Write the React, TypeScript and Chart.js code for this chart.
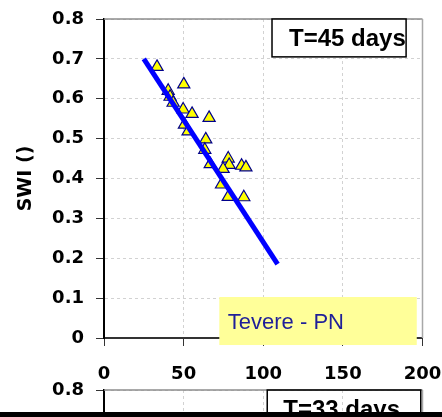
import React, { useEffect, useRef } from "react";
import { Chart, registerables } from "chart.js";

Chart.register(...registerables);

// ---- data ----
const obsDays = [33.3, 50.1, 40.3, 41.5, 43.4, 49.7, 55.3, 66.0, 50.5, 52.8, 63.9, 63.3, 66.7, 78.0, 78.6, 74.8, 86.4, 89.1, 73.8, 78.0, 87.8];
const obsSWI = [0.680, 0.636, 0.620, 0.605, 0.590, 0.573, 0.562, 0.552, 0.535, 0.518, 0.498, 0.472, 0.436, 0.450, 0.434, 0.424, 0.432, 0.428, 0.385, 0.354, 0.353];
const fitDays = [25, 109];
const fitSWI = [0.70, 0.185];
const xMin = 0;
const xMax = 200;
const xStep = 50;
const yMin = 0;
const yMax = 0.8;
const yStep = 0.1;
const yTitle = "SWI ()";
const panelLabel = "T=45 days";
const nextPanelLabel = "T=33 days";
const siteLabel = "Tevere - PN";

const tickFont = { family: "'DejaVu Sans', sans-serif", size: 18, weight: "bold" as const };
const boxFont = "bold 24px 'Liberation Sans', Arial, sans-serif";
const siteFont = "22px 'Liberation Sans', Arial, sans-serif";

const decor = {
  id: "decor",
  afterDraw(chart: any, _args: any, opts: any) {
    const { ctx, chartArea: a, scales } = chart;
    const x = scales.x;
    const y = scales.y;
    ctx.save();
    ctx.lineWidth = 1.5;
    ctx.strokeStyle = "#8c8c8c";
    ctx.beginPath();
    ctx.moveTo(a.left, a.top);
    ctx.lineTo(a.right, a.top);
    ctx.stroke();
    ctx.strokeStyle = "#a8a8a8";
    ctx.beginPath();
    ctx.moveTo(a.right, a.top);
    ctx.lineTo(a.right, a.bottom);
    ctx.stroke();
    for (const b of opts.boxes || []) {
      const l = x.getPixelForValue(b.x0);
      const r = x.getPixelForValue(b.x1);
      const t = y.getPixelForValue(b.y1);
      const bt = y.getPixelForValue(b.y0);
      if (b.fill) {
        ctx.fillStyle = b.fill;
        ctx.fillRect(l, t, r - l, bt - t);
      }
      if (b.stroke) {
        ctx.strokeStyle = b.stroke;
        ctx.lineWidth = 1.5;
        ctx.strokeRect(l, t, r - l, bt - t);
      }
      ctx.save();
      ctx.beginPath();
      ctx.rect(l, t, r - l, bt - t);
      ctx.clip();
      ctx.font = b.font;
      ctx.fillStyle = b.color;
      ctx.textAlign = "left";
      ctx.textBaseline = "alphabetic";
      ctx.fillText(b.text, l + b.dx, t + b.dy);
      ctx.restore();
    }
    ctx.restore();
  },
};

function scaleOptions(showX: boolean) {
  return {
    x: {
      type: "linear" as const,
      min: xMin,
      max: xMax,
      ticks: {
        stepSize: xStep,
        display: showX,
        font: tickFont,
        color: "#000",
        padding: 18,
        maxRotation: 0,
      },
      grid: { color: "#d2d2d2", tickColor: "#333", tickLength: 8, lineWidth: 1 },
      border: { color: "#333", width: 2, dash: [3, 3] },
      afterFit: (s: any) => {
        s.height = 47;
        s.paddingLeft = 0;
        s.paddingRight = 0;
      },
    },
    y: {
      type: "linear" as const,
      min: yMin,
      max: yMax,
      ticks: {
        stepSize: yStep,
        font: tickFont,
        color: "#000",
        padding: 12,
        callback: (v: any) => String(Number(Number(v).toFixed(1))),
      },
      title: {
        display: showX,
        text: yTitle,
        font: { family: "'DejaVu Sans', sans-serif", size: 19, weight: "bold" as const },
        color: "#000",
        padding: { top: 15, bottom: 0 },
      },
      grid: { color: "#d2d2d2", tickColor: "#333", tickLength: 8, lineWidth: 1 },
      border: { color: "#000", width: 2, dash: [3, 3] },
      afterFit: (s: any) => {
        s.width = 104;
        s.paddingTop = 0;
        s.paddingBottom = 0;
      },
    },
  };
}

export default function App() {
  const mainRef = useRef<HTMLCanvasElement>(null);
  const nextRef = useRef<HTMLCanvasElement>(null);

  useEffect(() => {
    document.body.style.margin = "0";
    const points = obsDays.map((d, i) => ({ x: d, y: obsSWI[i] }));
    const fit = fitDays.map((d, i) => ({ x: d, y: fitSWI[i] }));

    const main = new Chart(mainRef.current!, {
      type: "scatter",
      data: {
        datasets: [
          {
            type: "line",
            data: fit,
            borderColor: "#0000ff",
            borderWidth: 5,
            pointRadius: 0,
            fill: false,
            order: 0,
          } as any,
          {
            type: "scatter",
            data: points,
            pointStyle: "triangle",
            pointRadius: 7,
            backgroundColor: "#ffff00",
            borderColor: "#00008b",
            borderWidth: 1.2,
            order: 1,
          } as any,
        ],
      },
      options: {
        responsive: false,
        animation: false,
        devicePixelRatio: 1,
        events: [],
        layout: { padding: { left: 0, top: 19, right: 19.5, bottom: 0 } },
        plugins: {
          legend: { display: false },
          tooltip: { enabled: false },
          decor: {
            boxes: [
              { x0: 105.5, x1: 189.7, y0: 0.705, y1: 0.8, fill: "#ffffff", stroke: "#000", text: panelLabel, font: boxFont, color: "#000", dx: 17, dy: 26.7 },
              { x0: 72.4, x1: 196.4, y0: -0.0176, y1: 0.1028, fill: "#ffff99", stroke: null, text: siteLabel, font: siteFont, color: "#1f1f99", dx: 8.5, dy: 32 },
            ],
          },
        } as any,
        scales: scaleOptions(true) as any,
      },
      plugins: [decor],
    });

    const next = new Chart(nextRef.current!, {
      type: "scatter",
      data: { datasets: [] },
      options: {
        responsive: false,
        animation: false,
        devicePixelRatio: 1,
        events: [],
        layout: { padding: { left: 0, top: 14, right: 19.5, bottom: 0 } },
        plugins: {
          legend: { display: false },
          tooltip: { enabled: false },
          decor: {
            boxes: [
              { x0: 102.5, x1: 198.9, y0: 0.705, y1: 0.8, fill: null, stroke: "#000", text: nextPanelLabel, font: boxFont, color: "#000", dx: 16, dy: 26.7 },
            ],
          },
        } as any,
        scales: scaleOptions(false) as any,
      },
      plugins: [decor],
    });

    return () => {
      main.destroy();
      next.destroy();
    };
  }, []);

  return (
    <div
      style={{
        position: "fixed",
        left: 0,
        top: 0,
        width: 442,
        height: 417,
        overflow: "hidden",
        background: "#fff",
      }}
    >
      <canvas
        ref={nextRef}
        width={442}
        height={380}
        style={{ position: "absolute", left: 0, top: 376, width: 442, height: 380 }}
      />
      <canvas
        ref={mainRef}
        width={442}
        height={385}
        style={{ position: "absolute", left: 0, top: 0, width: 442, height: 385 }}
      />
      <div style={{ position: "absolute", left: 0, top: 412, width: 442, height: 5, background: "#000" }} />
    </div>
  );
}
